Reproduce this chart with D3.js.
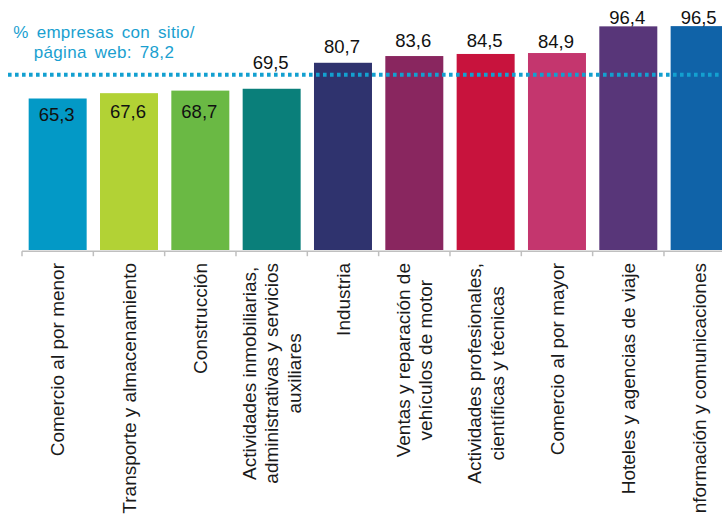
<!DOCTYPE html>
<html>
<head>
<meta charset="utf-8">
<script src="https://cdn.jsdelivr.net/npm/d3@7"></script>
<style>
  html, body { margin: 0; padding: 0; background: #ffffff; overflow: hidden; }
  svg { display: block; font-family: "Liberation Sans", Arial, sans-serif; }
</style>
</head>
<body>
<svg id="chart" width="722" height="515"></svg>
<script>
// ---- data ----
const categories = [
  ["Comercio al por menor"],
  ["Transporte y almacenamiento"],
  ["Construcción"],
  ["Actividades inmobiliarias,", "administrativas y servicios", "auxiliares"],
  ["Industria"],
  ["Ventas y reparación de", "vehículos de motor"],
  ["Actividades profesionales,", "científicas y técnicas"],
  ["Comercio al por mayor"],
  ["Hoteles y agencias de viaje"],
  ["Información y comunicaciones"]
];
const values = [65.3, 67.6, 68.7, 69.5, 80.7, 83.6, 84.5, 84.9, 96.4, 96.5];
const valueLabels = ["65,3", "67,6", "68,7", "69,5", "80,7", "83,6", "84,5", "84,9", "96,4", "96,5"];
const barColors = ["#0399c6", "#b2d235", "#6ab944", "#0a7f7a", "#2f336e",
                   "#89265f", "#c8133d", "#c4366e", "#583679", "#1063a8"];
const referenceLines = ["% empresas con sitio/", "página web: 78,2"];
const referenceDrawnAt = 75.5; // where the dotted line sits on the value axis in the picture

// ---- layout (not data) ----
const labelDy = [22.5, 24.5, 27, -19.5, -10, -9.3, -7, -4.7, -2.4, -2.1];
const W = 722, H = 515;
const plotLeft = 22, step = 71.33, baseY = 250, topY = 18;

const svg = d3.select("#chart");

const x = d3.scaleBand()
  .domain(d3.range(values.length))
  .range([plotLeft, plotLeft + step * values.length])
  .paddingInner(0.187)
  .paddingOuter(0.0935);

const y = d3.scaleLinear().domain([0, 100]).range([baseY, topY]);

// bars
svg.append("g").selectAll("rect")
  .data(values)
  .join("rect")
  .attr("x", (d, i) => x(i))
  .attr("y", d => y(d))
  .attr("width", x.bandwidth())
  .attr("height", d => y(0) - y(d))
  .attr("fill", (d, i) => barColors[i]);

// x axis line and ticks at band boundaries
const axisG = svg.append("g");
const axisY = baseY + 1.2;
const bounds = d3.range(values.length + 1).map(i => plotLeft + i * step);
axisG.append("line")
  .attr("x1", plotLeft).attr("x2", W)
  .attr("y1", axisY).attr("y2", axisY)
  .attr("stroke", "#bfbfbf").attr("stroke-width", 1.5);
axisG.selectAll("line.tick")
  .data(bounds)
  .join("line")
  .attr("class", "tick")
  .attr("x1", d => d).attr("x2", d => d)
  .attr("y1", axisY).attr("y2", axisY + 5)
  .attr("stroke", "#bfbfbf").attr("stroke-width", 1.5);

// dotted reference line
svg.append("line")
  .attr("x1", 8).attr("x2", W)
  .attr("y1", y(referenceDrawnAt)).attr("y2", y(referenceDrawnAt))
  .attr("stroke", "#13a0d0")
  .attr("stroke-width", 4)
  .attr("stroke-dasharray", "3.6,3.4");

// reference annotation
const ann = svg.append("text")
  .attr("text-anchor", "middle")
  .attr("fill", "#1a9fd0")
  .style("font-size", "17px")
  .style("letter-spacing", "0.3px")
  .style("word-spacing", "3px");
ann.selectAll("tspan")
  .data(referenceLines)
  .join("tspan")
  .attr("x", 104)
  .attr("y", (d, i) => 38 + i * 19.5)
  .text(d => d);

// value labels
svg.append("g").selectAll("text")
  .data(values)
  .join("text")
  .attr("x", (d, i) => x(i) + x.bandwidth() / 2 - 1)
  .attr("y", (d, i) => y(d) + labelDy[i])
  .attr("text-anchor", "middle")
  .attr("fill", "#111111")
  .style("font-size", "18.5px")
  .text((d, i) => valueLabels[i]);

// category labels (rotated)
const labelTop = 263, lineH = 22.5;
const catG = svg.append("g").style("font-size", "19px").attr("fill", "#1a1a1a");
categories.forEach((lines, i) => {
  const cx = x(i) + x.bandwidth() / 2;
  const g = catG.append("g").attr("transform", `translate(${cx},${labelTop}) rotate(-90)`);
  const texts = lines.map((ln, j) =>
    g.append("text")
      .attr("text-anchor", "middle")
      .attr("dy", "0.35em")
      .attr("y", (j - (lines.length - 1) / 2) * lineH)
      .text(ln));
  const maxLen = d3.max(texts, t => t.node().getComputedTextLength());
  texts.forEach(t => t.attr("x", -maxLen / 2));
});
</script>
</body>
</html>
